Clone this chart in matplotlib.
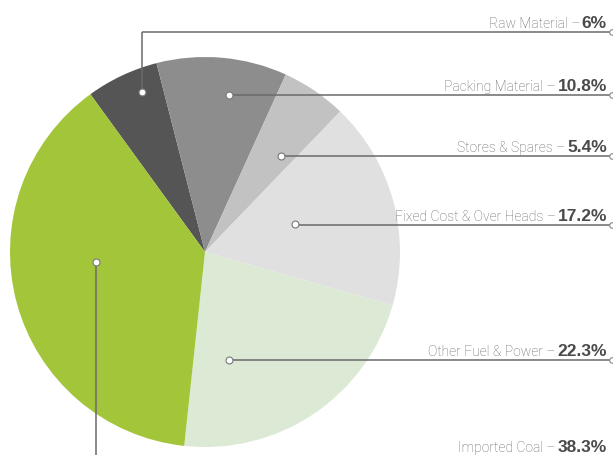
#!/usr/bin/env python3
"""
Cost breakdown pie with callout labels on the right.
"""

import matplotlib
matplotlib.use("Agg")
import matplotlib.pyplot as plt

# data
categories = ["Raw Material", "Packing Material", "Stores & Spares",
              "Fixed Cost & Over Heads", "Other Fuel & Power", "Imported Coal"]
shares = [6, 10.8, 5.4, 17.2, 22.3, 38.3]
share_labels = ["6%", "10.8%", "5.4%", "17.2%", "22.3%", "38.3%"]
colors = ["#555555", "#8d8d8d", "#c2c2c2", "#e0e0e0", "#dce9d5", "#a2c539"]

# layout (pixel coords, y measured from top)
W, H = 613, 456
cx, cy, radius = 205, 253, 195
dots = [(142, 93), (229, 96), (281, 157), (295, 225), (229, 361), (96, 263)]
line_y = [33, 96, 157, 226, 361, 462]
text_right = 607
line_end = 612


def main():
    plt.rcParams["font.family"] = ["Roboto", "DejaVu Sans"]
    fig = plt.figure(figsize=(W / 100, H / 100), dpi=100)
    ax = fig.add_axes([0, 0, 1, 1])

    ax.pie(shares, colors=colors, startangle=126, counterclock=False,
           center=(cx, H - cy), radius=radius, frame=True,
           wedgeprops=dict(linewidth=0))
    ax.set_xlim(0, W)
    ax.set_ylim(0, H)
    ax.set_aspect("equal")
    ax.axis("off")

    line_col = "#6a6a6a"
    pct_texts = []
    for i, (cat, pct) in enumerate(zip(categories, share_labels)):
        dx, dy = dots[i]
        ly = line_y[i]
        # leader line: vertical leg when the dot is not on the label row
        if abs(ly - dy) > 1:
            ax.plot([dx, dx], [H - dy, H - ly], color=line_col, lw=1.1,
                    solid_capstyle="butt", zorder=3)
        if i < len(categories) - 1:
            ax.plot([dx, line_end], [H - ly, H - ly], color=line_col, lw=1.1,
                    solid_capstyle="butt", zorder=3)
            ax.plot([line_end], [H - ly], marker="o", ms=4, mfc="white",
                    mec="#888888", mew=0.8, zorder=4, clip_on=False)
        ax.plot([dx], [H - dy], marker="o", ms=5, mfc="white",
                mec="#777777", mew=0.8, zorder=5)

        base = H - ly + 5 if i < len(categories) - 1 else H - 452
        t = ax.text(text_right, base, pct, ha="right", va="baseline",
                    fontsize=12.5, fontweight="bold", color="#4a4a4a",
                    family=["Liberation Sans", "DejaVu Sans"])
        pct_texts.append((t, cat, base))

    fig.canvas.draw()
    renderer = fig.canvas.get_renderer()
    inv = ax.transData.inverted()
    for t, cat, base in pct_texts:
        bb = t.get_window_extent(renderer)
        x_left = inv.transform((bb.x0, bb.y0))[0]
        ax.text(x_left - 2, base, cat + " \u2013", ha="right", va="baseline",
                fontsize=10, fontweight="light", color="#666666")

    fig.savefig("out.png", dpi=100)


if __name__ == "__main__":
    main()
